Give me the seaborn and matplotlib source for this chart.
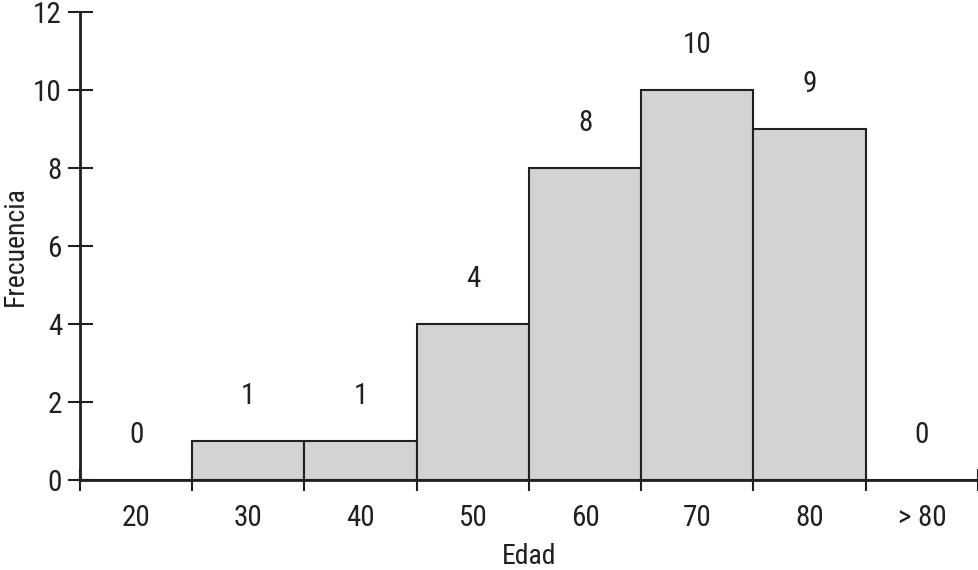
import matplotlib
matplotlib.use("Agg")
import matplotlib.pyplot as plt
import seaborn as sns
import pandas as pd
import numpy as np
from matplotlib import font_manager

categories = ["20", "30", "40", "50", "60", "70", "80", "> 80"]
frequencies = [0, 1, 1, 4, 8, 10, 9, 0]

sns.set_style("ticks")
avail = {f.name for f in font_manager.fontManager.ttflist}
fam = [f for f in ["Liberation Sans Narrow", "Roboto Condensed", "Liberation Sans", "DejaVu Sans"] if f in avail]
plt.rcParams["font.family"] = fam

df = pd.DataFrame({"Edad": categories, "Frecuencia": frequencies})

fig = plt.figure(figsize=(9.79, 5.70), dpi=100)
ax = fig.add_axes([80 / 979, 90 / 570, 898 / 979, 468 / 570])

sns.barplot(data=df, x="Edad", y="Frecuencia", order=categories, color="#d3d3d5",
            width=1.0, edgecolor="#231f20", linewidth=1.5, saturation=1, ax=ax)

for i, v in enumerate(frequencies):
    ax.text(i, v + 1.15, str(v), ha="center", va="center", fontsize=21, color="#231f20")

ax.set_xlim(-0.5, len(categories) - 0.5)
ax.set_ylim(0, 12)
ax.set_yticks(np.arange(0, 13, 2))
ax.set_xticks(range(len(categories)))
ax.set_xticklabels(categories)
ax.set_xticks(np.arange(-0.5, len(categories), 1.0), minor=True)

ax.tick_params(axis="x", which="major", length=0, labelsize=21, pad=17, colors="#231f20")
ax.tick_params(axis="x", which="minor", direction="inout", length=16, width=1.5, color="#231f20")
ax.tick_params(axis="y", which="major", direction="inout", length=18, width=1.5,
               labelsize=21, pad=4, colors="#231f20")

for s in ["top", "right"]:
    ax.spines[s].set_visible(False)
for s in ["left", "bottom"]:
    ax.spines[s].set_linewidth(2)
    ax.spines[s].set_color("#231f20")

ax.set_xlabel("Edad", fontsize=20, color="#231f20", labelpad=8)
ax.set_ylabel("Frecuencia", fontsize=20, color="#231f20", labelpad=3)

fig.savefig("out.png", dpi=100)
